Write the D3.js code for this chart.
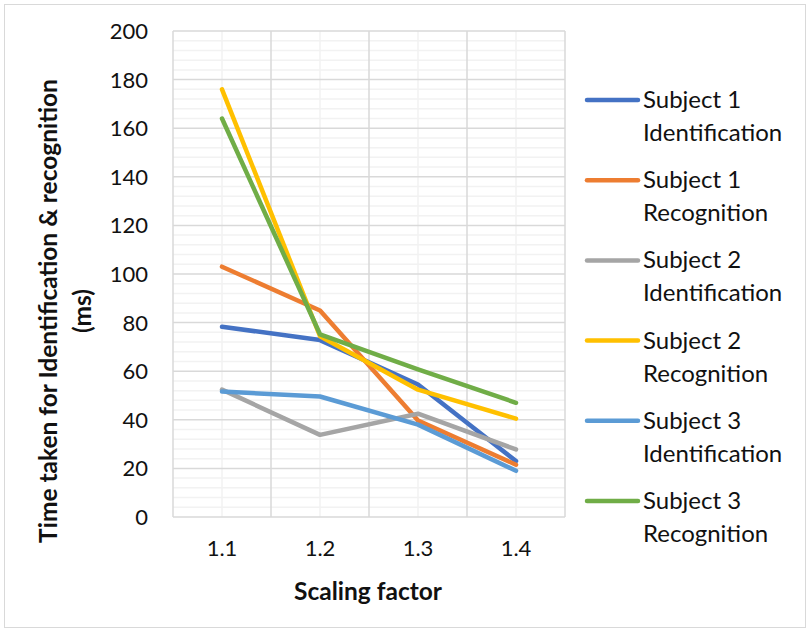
<!DOCTYPE html>
<html lang="en">
<head>
<meta charset="UTF-8">
<title>Identification and recognition time</title>
<script src="https://d3js.org/d3.v7.min.js"></script>
<style>
  body { margin: 0; background: #fff; }
  text { font-family: Lato, "Noto Sans", sans-serif; fill: #111; }
</style>
</head>
<body>
<svg id="chart" width="809" height="632"></svg>
<script>
// data
const categories = ["1.1", "1.2", "1.3", "1.4"];
const seriesNames = [
  "Subject 1 Identification", "Subject 1 Recognition",
  "Subject 2 Identification", "Subject 2 Recognition",
  "Subject 3 Identification", "Subject 3 Recognition"
];
const s1Ident = [78.3, 72.8, 54.5, 23];
const s1Recog = [103, 85, 39.7, 21.5];
const s2Ident = [52.4, 33.8, 42.5, 27.8];
const s2Recog = [176, 74.4, 52.4, 40.5];
const s3Ident = [51.6, 49.6, 38, 19];
const s3Recog = [164, 75.2, 60.8, 47];
const seriesValues = [s1Ident, s1Recog, s2Ident, s2Recog, s3Ident, s3Recog];
const colors = ["#4472C4", "#ED7D31", "#A5A5A5", "#FFC000", "#5B9BD5", "#70AD47"];
const yTicks = [0, 20, 40, 60, 80, 100, 120, 140, 160, 180, 200];

const svg = d3.select("#chart");
const plotL = 173, plotR = 565, plotT = 31, plotB = 517;

// outer border
svg.append("rect")
  .attr("x", 4.5).attr("y", 4.5).attr("width", 801).attr("height", 623)
  .attr("fill", "#fff").attr("stroke", "#d9d9d9").attr("stroke-width", 1);

const x = d3.scaleBand().domain(categories).range([plotL, plotR]);
const y = d3.scaleLinear().domain([0, 200]).range([plotB, plotT]);

const grid = svg.append("g");
// minor horizontal grid every 4
grid.selectAll("line.hmin")
  .data(d3.range(0, 201, 4).filter(v => v % 20 !== 0))
  .join("line")
  .attr("x1", plotL).attr("x2", plotR)
  .attr("y1", d => y(d)).attr("y2", d => y(d))
  .attr("stroke", "#f2f2f2").attr("stroke-width", 1.5);
// minor vertical grid at the category centres
grid.selectAll("line.vmin")
  .data(categories)
  .join("line")
  .attr("x1", d => x(d) + x.bandwidth() / 2).attr("x2", d => x(d) + x.bandwidth() / 2)
  .attr("y1", plotT).attr("y2", plotB)
  .attr("stroke", "#f2f2f2").attr("stroke-width", 1.5);
// major grid
grid.selectAll("line.hmaj")
  .data(yTicks)
  .join("line")
  .attr("x1", plotL).attr("x2", plotR)
  .attr("y1", d => y(d)).attr("y2", d => y(d))
  .attr("stroke", "#d9d9d9").attr("stroke-width", 1.5);
grid.selectAll("line.vmaj")
  .data([...categories.map(c => x(c)), plotR])
  .join("line")
  .attr("x1", d => d).attr("x2", d => d)
  .attr("y1", plotT).attr("y2", plotB)
  .attr("stroke", "#d9d9d9").attr("stroke-width", 1.5);

// y tick labels
svg.append("g").selectAll("text")
  .data(yTicks)
  .join("text")
  .attr("x", 148).attr("y", d => y(d))
  .attr("dy", "0.36em")
  .attr("text-anchor", "end")
  .style("font-size", "22px")
  .text(d => d);

// x tick labels
svg.append("g").selectAll("text")
  .data(categories)
  .join("text")
  .attr("x", d => x(d) + x.bandwidth() / 2).attr("y", 556)
  .attr("text-anchor", "middle")
  .style("font-size", "22px")
  .text(d => d);

// axis titles
svg.append("text")
  .attr("x", 368).attr("y", 600)
  .attr("text-anchor", "middle")
  .style("font-size", "24.5px").style("font-weight", "bold")
  .text("Scaling factor");

const yt = svg.append("text")
  .attr("transform", "translate(0,311) rotate(-90)")
  .attr("text-anchor", "middle")
  .style("font-size", "24.5px").style("font-weight", "bold");
yt.append("tspan").attr("x", 0).attr("y", 57).text("Time taken for Identification & recognition");
yt.append("tspan").attr("x", 0).attr("y", 91).text("(ms)");

// lines
const line = d3.line()
  .x((d, i) => x(categories[i]) + x.bandwidth() / 2)
  .y(d => y(d));

svg.append("g").selectAll("path")
  .data(seriesValues)
  .join("path")
  .attr("d", d => line(d))
  .attr("fill", "none")
  .attr("stroke", (d, i) => colors[i])
  .attr("stroke-width", 4.5)
  .attr("stroke-linecap", "round")
  .attr("stroke-linejoin", "round");

// legend
const legend = svg.append("g").selectAll("g")
  .data(seriesNames)
  .join("g")
  .attr("transform", (d, i) => `translate(0,${100 + i * 80.2})`);

legend.append("line")
  .attr("x1", 587).attr("x2", 638)
  .attr("stroke", (d, i) => colors[i])
  .attr("stroke-width", 4.5)
  .attr("stroke-linecap", "round");

legend.append("text")
  .attr("x", 643).attr("y", 8)
  .style("font-size", "24px")
  .text(d => d.split(" ").slice(0, 2).join(" "));
legend.append("text")
  .attr("x", 643).attr("y", 41)
  .style("font-size", "24px")
  .text(d => d.split(" ")[2]);
</script>
</body>
</html>
